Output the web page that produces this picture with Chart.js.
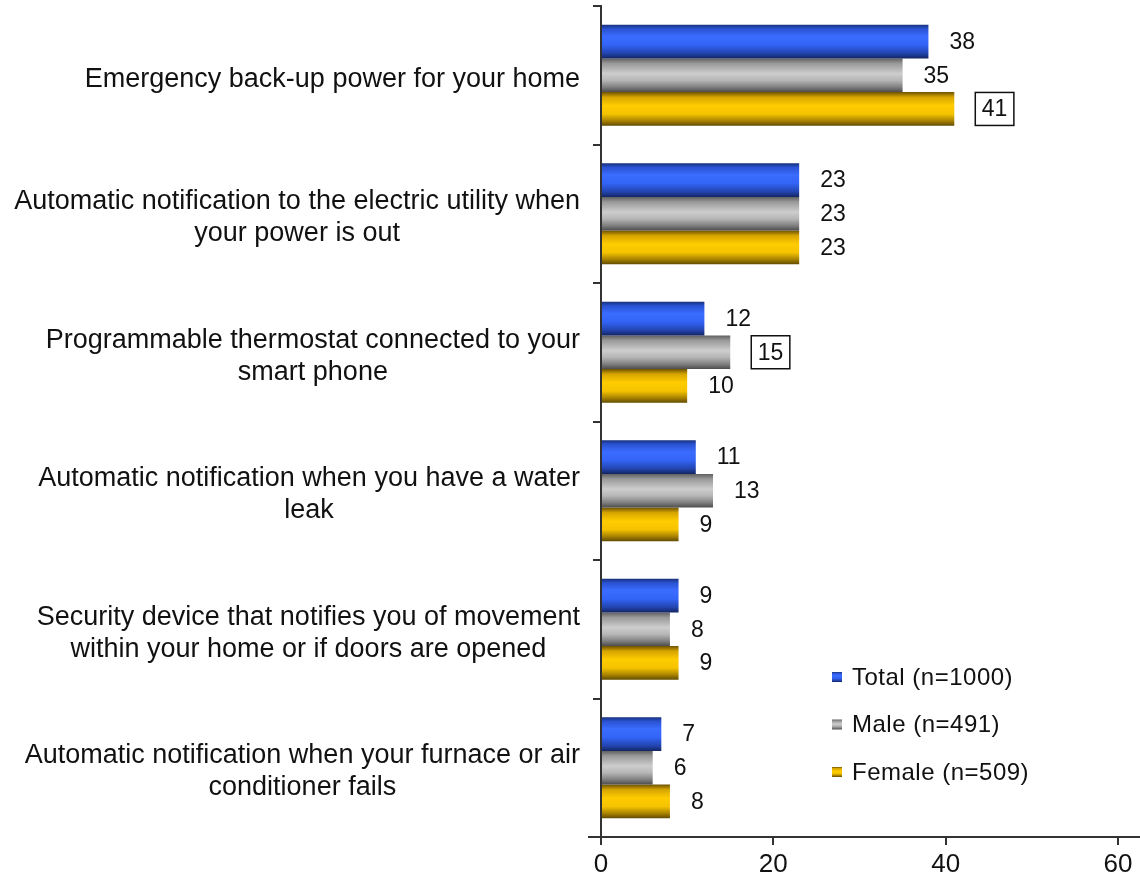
<!DOCTYPE html>
<html>
<head>
<meta charset="utf-8">
<script src="https://cdn.jsdelivr.net/npm/chart.js@4.4.1/dist/chart.umd.min.js"></script>
<style>
  html, body { margin: 0; padding: 0; background: #fff; }
  #wrap { width: 1140px; height: 891px; }
</style>
</head>
<body>
<div id="wrap"><canvas id="featureChart" width="1140" height="891"></canvas></div>
<script>
// Category labels, one array of lines per category
const categories = [
    ['Emergency back-up power for your home'],
    ['Automatic notification to the electric utility when', 'your power is out'],
    ['Programmable thermostat connected to your', 'smart phone'],
    ['Automatic notification when you have a water', 'leak'],
    ['Security device that notifies you of movement', 'within your home or if doors are opened'],
    ['Automatic notification when your furnace or air', 'conditioner fails']
];

const seriesNames = ['Total (n=1000)', 'Male (n=491)', 'Female (n=509)'];

// Percent of respondents
const totalValues = [38, 23, 12, 11, 9, 7];
const maleValues = [35, 23, 15, 13, 8, 6];
const femaleValues = [41, 23, 10, 9, 9, 8];

// Axis range
const xMin = 0;
const xMax = 60;
const xStep = 20;

// Value labels drawn with a box: [series, category]
const boxedLabels = [[2, 0], [1, 2]];

const FONT = '"Liberation Sans", Arial, sans-serif';

// Cylinder-like shading for each series (top to bottom)
const shades = [
    [[0, '#172f7a'], [0.12, '#2a52d0'], [0.35, '#3a6cff'], [0.6, '#3364f6'], [0.85, '#2244ae'], [1, '#132563']],
    [[0, '#5f5f5f'], [0.15, '#999999'], [0.45, '#cdcdcd'], [0.65, '#b6b6b6'], [0.85, '#808080'], [1, '#4c4c4c']],
    [[0, '#6f5300'], [0.15, '#d6a500'], [0.4, '#ffcc00'], [0.65, '#f5c300'], [0.85, '#aa8400'], [1, '#614a00']]
];

function makeGradient(ctx, top, bottom, stops) {
    const g = ctx.createLinearGradient(0, top, 0, bottom);
    stops.forEach(s => g.addColorStop(s[0], s[1]));
    return g;
}

// Swap flat fill for a vertical gradient on every bar
const barShade = {
    id: 'barShade',
    beforeDatasetDraw(chart, args) {
        const stops = shades[args.index];
        args.meta.data.forEach(bar => {
            const top = bar.y - bar.height / 2;
            const bottom = bar.y + bar.height / 2;
            bar.options = Object.assign({}, bar.options, {
                backgroundColor: makeGradient(chart.ctx, top, bottom, stops)
            });
        });
    }
};

// Value labels to the right of each bar
const valueLabels = {
    id: 'valueLabels',
    afterDatasetsDraw(chart) {
        const ctx = chart.ctx;
        ctx.save();
        ctx.font = '23px ' + FONT;
        ctx.fillStyle = '#111';
        ctx.textBaseline = 'middle';
        ctx.textAlign = 'left';
        chart.data.datasets.forEach((ds, si) => {
            chart.getDatasetMeta(si).data.forEach((bar, i) => {
                const text = String(ds.data[i]);
                const x = bar.x + 21;
                const boxed = boxedLabels.some(b => b[0] === si && b[1] === i);
                if (boxed) {
                    const w = ctx.measureText(text).width + 13;
                    ctx.fillStyle = '#fff';
                    ctx.fillRect(x, bar.y - 16.5, w, 33);
                    ctx.strokeStyle = '#111';
                    ctx.lineWidth = 1.5;
                    ctx.strokeRect(x, bar.y - 16.5, w, 33);
                    ctx.fillStyle = '#111';
                    ctx.fillText(text, x + 6.5, bar.y + 1);
                } else {
                    ctx.fillText(text, x, bar.y + 1);
                }
            });
        });
        ctx.restore();
    }
};

// Category labels: lines centred on each other, block right-aligned to the axis
const categoryLabels = {
    id: 'categoryLabels',
    afterDraw(chart) {
        const ctx = chart.ctx;
        const yScale = chart.scales.y;
        const right = chart.chartArea.left - 21;
        ctx.save();
        ctx.font = '27px ' + FONT;
        ctx.fillStyle = '#111';
        ctx.textBaseline = 'middle';
        ctx.textAlign = 'center';
        chart.data.labels.forEach((lines, i) => {
            const cy = yScale.getPixelForTick(i) + 4;
            const w = Math.max(...lines.map(l => ctx.measureText(l).width));
            const cx = right - w / 2;
            lines.forEach((line, j) => {
                ctx.fillText(line, cx, cy + (j - (lines.length - 1) / 2) * 32);
            });
        });

        // x axis line runs a little past both ends of the plot
        const area = chart.chartArea;
        ctx.strokeStyle = '#333';
        ctx.lineWidth = 2;
        ctx.beginPath();
        ctx.moveTo(area.left - 13, area.bottom);
        ctx.lineTo(area.left, area.bottom);
        ctx.moveTo(area.right, area.bottom);
        ctx.lineTo(chart.width, area.bottom);
        ctx.stroke();
        ctx.restore();
    }
};

// Legend in the lower right of the plot
const cornerLegend = {
    id: 'cornerLegend',
    afterDraw(chart) {
        const ctx = chart.ctx;
        const area = chart.chartArea;
        const x = area.left + 231;
        let y = area.bottom - 160;
        ctx.save();
        ctx.font = '24px ' + FONT;
        ctx.letterSpacing = '0.5px';
        ctx.textBaseline = 'middle';
        ctx.textAlign = 'left';
        chart.data.datasets.forEach((ds, i) => {
            ctx.fillStyle = makeGradient(ctx, y - 5, y + 5, shades[i]);
            ctx.fillRect(x, y - 5, 10, 10);
            ctx.fillStyle = '#111';
            ctx.fillText(ds.label, x + 20, y + 1);
            y += 47.5;
        });
        ctx.restore();
    }
};

const featureCtx = document.getElementById('featureChart').getContext('2d');

new Chart(featureCtx, {
    type: 'bar',
    data: {
        labels: categories,
        datasets: [
            { label: seriesNames[0], data: totalValues, backgroundColor: '#3366ff' },
            { label: seriesNames[1], data: maleValues, backgroundColor: '#c0c0c0' },
            { label: seriesNames[2], data: femaleValues, backgroundColor: '#ffcc00' }
        ]
    },
    options: {
        indexAxis: 'y',
        responsive: false,
        animation: false,
        datasets: {
            bar: { categoryPercentage: 0.73, barPercentage: 1.0 }
        },
        layout: { padding: { top: 6, right: 22, left: 0, bottom: 0 } },
        plugins: {
            legend: { display: false },
            tooltip: { enabled: false }
        },
        scales: {
            x: {
                min: xMin,
                max: xMax,
                ticks: {
                    stepSize: xStep,
                    color: '#111',
                    padding: 4,
                    font: { family: FONT, size: 26 }
                },
                grid: { drawOnChartArea: false, tickLength: 8, color: '#333', lineWidth: 2 },
                border: { color: '#333', width: 2 },
                afterFit: function(scale) { scale.height = 54; }
            },
            y: {
                ticks: { display: false },
                grid: { drawOnChartArea: false, tickLength: 8, color: '#333', lineWidth: 2, offset: true },
                border: { color: '#333', width: 2 },
                afterFit: function(scale) { scale.width = 601; }
            }
        }
    },
    plugins: [barShade, valueLabels, categoryLabels, cornerLegend]
});
</script>
</body>
</html>
